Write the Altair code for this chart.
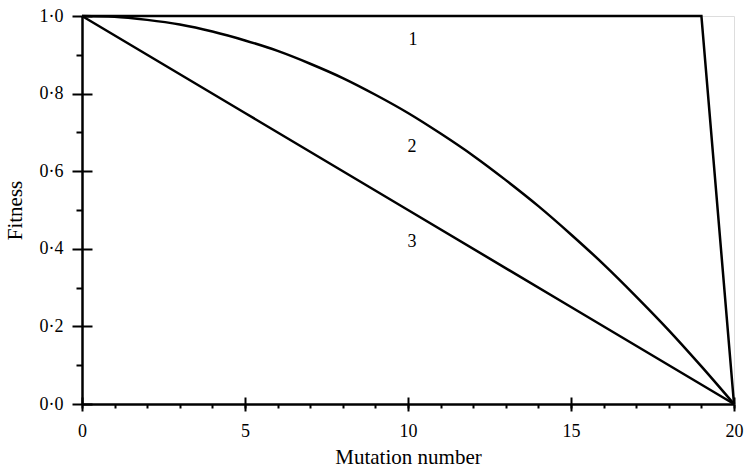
import altair as alt
import pandas as pd

# Data
c1_x = [0, 19, 20]
c1_y = [1.0, 1.0, 0.0]
c2_x = [0, 1, 2, 3, 4, 5, 6, 7, 8, 9, 10, 11, 12, 13, 14, 15, 16, 17, 18, 19, 20]
c2_y = [1.0, 0.998, 0.99, 0.978, 0.96, 0.937, 0.91, 0.877, 0.84, 0.797, 0.75,
        0.697, 0.64, 0.577, 0.51, 0.437, 0.36, 0.277, 0.19, 0.097, 0.0]
c3_x = [0, 5, 10, 15, 20]
c3_y = [1.0, 0.75, 0.5, 0.25, 0.0]

label_text = ["1", "2", "3"]
label_x = [10.15, 10.12, 10.12]
label_y = [0.938, 0.662, 0.417]

major_x = [0, 5, 10, 15, 20]
minor_x = list(range(0, 21))
major_y = [0.0, 0.2, 0.4, 0.6, 0.8, 1.0]
minor_y = [0.1, 0.3, 0.5, 0.7, 0.9]

rows_lin = []
for cid, xs_, ys_ in (("1", c1_x, c1_y), ("3", c3_x, c3_y)):
    for a, b in zip(xs_, ys_):
        rows_lin.append({"curve": cid, "x": a, "y": b})
df_lin = pd.DataFrame(rows_lin)
df_curve = pd.DataFrame({"curve": "2", "x": c2_x, "y": c2_y})
lab = pd.DataFrame({"t": label_text, "x": label_x, "y": label_y})

FONT = "Liberation Serif"
xs = alt.Scale(domain=[0, 20], nice=False, zero=False)
ys = alt.Scale(domain=[0, 1], nice=False, zero=False)
fmt = "replace(format(datum.value, '.1f'), '.', '·')"

common = dict(grid=False, domainColor="black", tickColor="black", tickWidth=2,
              labelFont=FONT, labelFontSize=18, labelColor="black",
              titleFont=FONT, titleFontSize=21, titleColor="black", titleFontWeight="normal")

main_x = alt.Axis(orient="bottom", values=major_x, tickSize=7, domainWidth=2.5,
                  labelPadding=11, title="Mutation number", titlePadding=6,
                  labelFlush=False, **common)
main_y = alt.Axis(orient="left", values=major_y, tickSize=10, domainWidth=2.5,
                  labelPadding=9, labelExpr=fmt, title="Fitness", titlePadding=14,
                  **common)

curve2 = alt.Chart(df_curve).mark_line(color="black", strokeWidth=2.5, interpolate="monotone").encode(
    x=alt.X("x:Q", scale=xs, axis=main_x),
    y=alt.Y("y:Q", scale=ys, axis=main_y),
)

straight = alt.Chart(df_lin).mark_line(color="black", strokeWidth=2.5).encode(
    x=alt.X("x:Q", scale=xs, axis=None),
    y=alt.Y("y:Q", scale=ys, axis=None),
    detail="curve:N",
)

inner = alt.Chart(df_curve).mark_line(opacity=0).encode(
    x=alt.X("x:Q", scale=xs, axis=alt.Axis(orient="bottom", values=major_x, tickSize=7,
                                             offset=-7, domain=False, labels=False,
                                             title=None, grid=False, tickColor="black", tickWidth=2)),
    y=alt.Y("y:Q", scale=ys, axis=alt.Axis(orient="left", values=major_y, tickSize=10,
                                             offset=-10, domain=False, labels=False,
                                             title=None, grid=False, tickColor="black", tickWidth=2)),
)

minor = alt.Chart(df_curve).mark_line(opacity=0).encode(
    x=alt.X("x:Q", scale=xs, axis=alt.Axis(orient="bottom", values=minor_x, tickSize=4,
                                             domain=False, labels=False,
                                             title=None, grid=False, tickColor="black", tickWidth=2)),
    y=alt.Y("y:Q", scale=ys, axis=alt.Axis(orient="left", values=minor_y, tickSize=6,
                                             domain=False, labels=False,
                                             title=None, grid=False, tickColor="black", tickWidth=2)),
)

texts = alt.Chart(lab).mark_text(font=FONT, fontSize=18, color="black").encode(
    x=alt.X("x:Q", scale=xs, axis=None),
    y=alt.Y("y:Q", scale=ys, axis=None),
    text="t:N",
)

chart = alt.layer(minor, inner, curve2, straight, texts).resolve_axis(
    x="independent", y="independent"
).properties(
    width=652, height=388,
    autosize=alt.AutoSizeParams(type="none"),
    padding={"left": 82, "top": 16, "right": 12, "bottom": 68},
).configure_view(stroke=None).configure(background="white")

chart.save("out.html", embed_options={"renderer": "svg", "actions": False})
